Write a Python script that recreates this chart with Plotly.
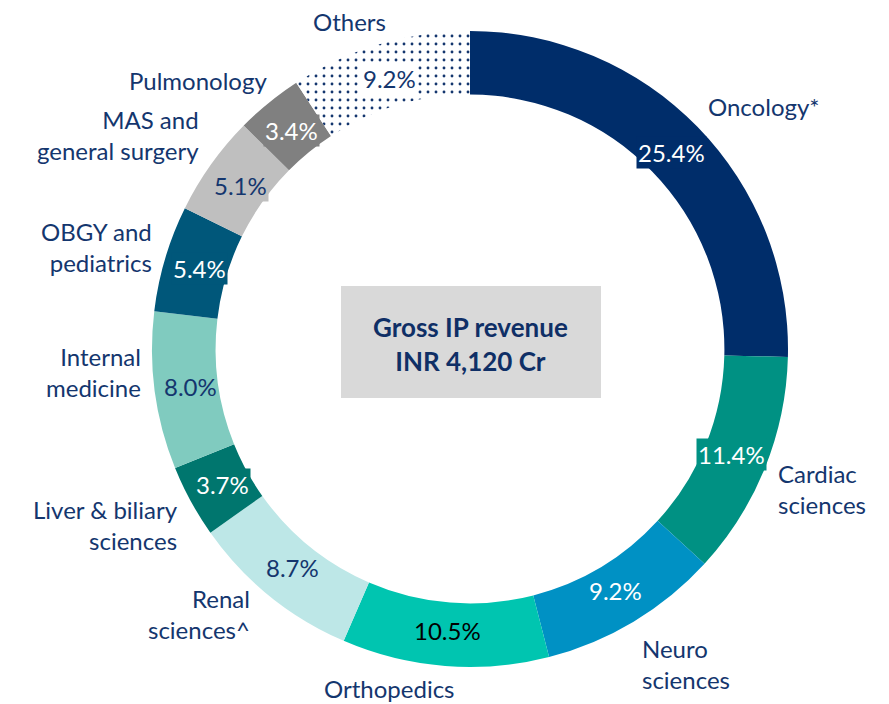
import math
import plotly.graph_objects as go

# IP revenue mix by specialty (share of gross IP revenue, %)
specialties = ["Oncology*", "Cardiac<br>sciences", "Neuro<br>sciences", "Orthopedics",
               "Renal<br>sciences^", "Liver & biliary<br>sciences", "Internal<br>medicine",
               "OBGY and<br>pediatrics", "MAS and<br>general surgery", "Pulmonology", "Others"]
shares = [25.4, 11.4, 9.2, 10.5, 8.7, 3.7, 8.0, 5.4, 5.1, 3.4, 9.2]

colors = ["#002D6A", "#009183", "#0091C4", "#00C5B0", "#BDE7E7", "#00766E",
          "#80CBBF", "#00577A", "#BFBFBF", "#808080", "#FFFFFF"]
pct_colors = ["white", "white", "white", "black", "#14366E", "white",
              "#14366E", "white", "#14366E", "white", "#14366E"]
pct_boxed = [True, True, False, False, False, True, False, True, True, True, True]
# small nudges (px) for the outside labels
nudges = [(0, 4), (0, -15), (0, 0), (-55, -6), (-10, -23), (0, -14),
          (0, -20), (0, -8), (0, 9), (8, 4), (12, 5)]

NAVY = "#14366E"
FONT = "Lato"
OFF = 8                    # page body margin
W, H = 889 - OFF, 704 - OFF
cx, cy, R = 470, 349, 318  # pie centre / radius in page px
hole = 0.80


def px(x, y):
    return (x - OFF) / W, 1 - (y - OFF) / H


dx0, dy0 = px(cx - R, cy + R)
dx1, dy1 = px(cx + R, cy - R)

fig = go.Figure(go.Pie(
    labels=specialties, values=shares, sort=False, direction="clockwise", rotation=0,
    hole=hole, textinfo="none", hoverinfo="label+value",
    marker=dict(colors=colors, line=dict(width=0),
                pattern=dict(shape=["", "", "", "", "", "", "", "", "", "", "."],
                             fgcolor=NAVY, bgcolor="white", size=8, solidity=0.1)),
    domain=dict(x=[dx0, dx1], y=[dy0, dy1]),
))

total = sum(shares)
cum = 0
for name, v, tc, boxed, col, (nx, ny) in zip(specialties, shares, pct_colors, pct_boxed, colors, nudges):
    mid = (cum + v / 2) / total * 2 * math.pi
    cum += v
    s, c = math.sin(mid), math.cos(mid)
    # percentage inside the ring
    r_in = 282
    xx, yy = px(cx + r_in * s, cy - r_in * c)
    fig.add_annotation(x=xx, y=yy, xref="paper", yref="paper", text=f"{v:.1f}%",
                       showarrow=False, xanchor="center", yanchor="middle",
                       font=dict(family=FONT, size=24, color=tc),
                       bgcolor=col if boxed else None, borderpad=1)
    # category name outside
    r_out = 330
    xa = "left" if s > 0.25 else ("right" if s < -0.25 else "center")
    ya = "bottom" if c > 0.3 else ("top" if c < -0.3 else "middle")
    xx, yy = px(cx + r_out * s + nx, cy - r_out * c + ny)
    fig.add_annotation(x=xx, y=yy, xref="paper", yref="paper", text=name,
                       showarrow=False, xanchor=xa, yanchor=ya,
                       align="left" if s > 0 else "right",
                       font=dict(family=FONT, size=24, color=NAVY))

# centre box
bx0, by0 = px(341, 398)
bx1, by1 = px(601, 286)
fig.add_shape(type="rect", xref="paper", yref="paper", x0=bx0, y0=by0, x1=bx1, y1=by1,
              fillcolor="#D9D9D9", line=dict(width=0))
mx, my = px(471, 344)
fig.add_annotation(x=mx, y=my, xref="paper", yref="paper", xanchor="center", yanchor="middle",
                   text="<b>Gross IP revenue<br>INR 4,120 Cr</b>", showarrow=False,
                   font=dict(family=FONT, size=26, color="#0F2F66"))

fig.update_layout(width=W, height=H, margin=dict(l=0, r=0, t=0, b=0),
                  paper_bgcolor="white", plot_bgcolor="white", showlegend=False)

fig.write_html("out.html")
